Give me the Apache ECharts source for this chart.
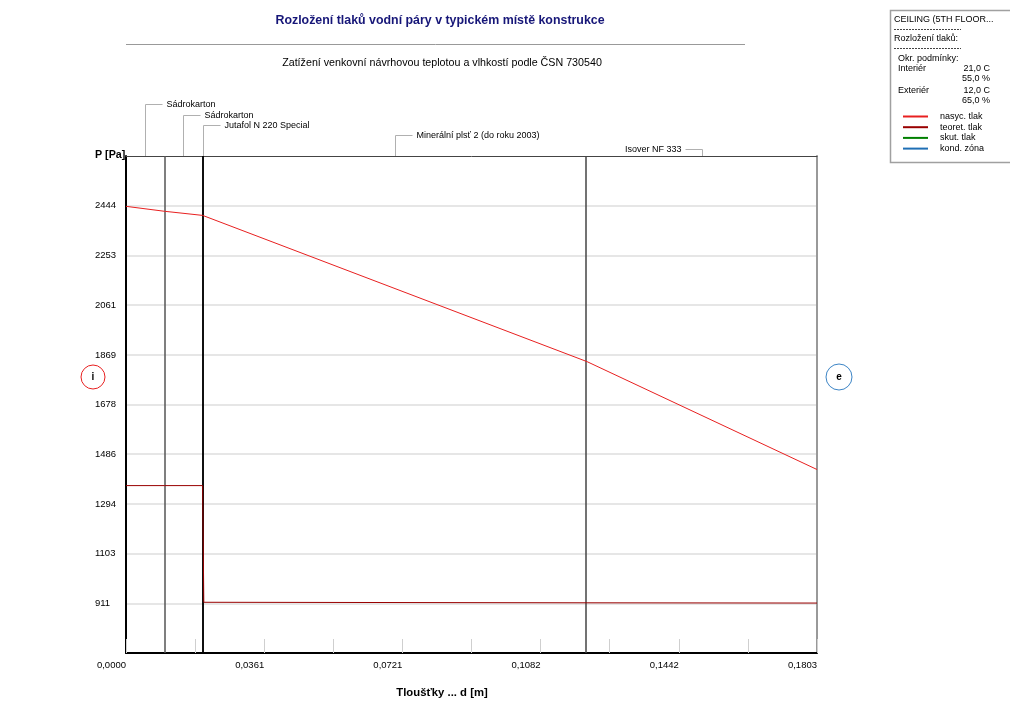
<!DOCTYPE html>
<html><head><meta charset="utf-8">
<script src="https://cdn.jsdelivr.net/npm/echarts@6/dist/echarts.min.js"></script>
<style>html,body{margin:0;padding:0;background:#fff}#c{width:1010px;height:702px}</style>
</head><body><div id="c"></div>
<script>
// ---------- data ----------
const titleText = 'Rozložení tlaků vodní páry v typickém místě konstrukce';
const subtitleText = 'Zatížení venkovní návrhovou teplotou a vlhkostí podle ČSN 730540';
const xAxisTitle = 'Tloušťky ... d [m]';
const yAxisTitle = 'P [Pa]';
const layerNames = ['Sádrokarton', 'Sádrokarton', 'Jutafol N 220 Special', 'Minerální plsť 2 (do roku 2003)', 'Isover NF 333'];
const layerBounds = [0, 0.01, 0.02, 0.0203, 0.1203, 0.1803];          // m
const satPressure = [2442, 2423, 2407, 2406, 1843, 1427];              // Pa at layerBounds
const theorPressure = [1365, 1365, 1365, 915, 913, 912];               // Pa at layerBounds
const yTicks = [911, 1103, 1294, 1486, 1678, 1869, 2061, 2253, 2444];
const yMin = 719.4, yMax = 2636.1;
const xMax = 0.1803, xStep = 0.01803;
const seriesNames = ['nasyc. tlak', 'teoret. tlak', 'skut. tlak', 'kond. zóna'];
const infoHeader = 'CEILING (5TH FLOOR...';
const infoSub = 'Rozložení tlaků:';
const infoCond = 'Okr. podmínky:';
const sideNames = ['Interiér', 'Exteriér'];
const sideTemp = ['21,0 C', '12,0 C'];
const sideHum = ['55,0 %', '65,0 %'];
const sideMarks = ['i', 'e'];

// ---------- styles ----------
const FONT = 'Liberation Sans, Arial, sans-serif';
const SMALL = 9;
const AXIS = 9.5;
const seriesColors = ['#e82020', '#990000', '#008000', '#1f6fb5'];
const boundaryStyles = [null, {color: '#555', width: 1.5}, {color: '#000', width: 1.5}, {color: '#000', width: 1.5}, {color: '#444', width: 1.5}, null];
const labelY = [104, 114.5, 125, 135, 149];
const labelSide = ['r', 'r', 'r', 'r', 'l'];

const chart = echarts.init(document.getElementById('c'), null, {renderer: 'canvas'});

const pair = (xs, ys) => xs.map((x, i) => [x, ys[i]]);

const option = {
  animation: false,
  backgroundColor: '#fff',
  textStyle: {fontFamily: FONT},
  title: [
    {text: titleText, left: 435, top: 10, textAlign: 'center',
     textStyle: {fontFamily: FONT, fontSize: 12.4, fontWeight: 'bold', color: '#161678'}},
    {text: subtitleText, left: 437, top: 53, textAlign: 'center',
     textStyle: {fontFamily: FONT, fontSize: 10.7, fontWeight: 'normal', color: '#000'}}
  ],
  grid: {left: 126, right: 193, top: 156, bottom: 49, containLabel: false},
  legend: {
    orient: 'vertical', left: 903, top: 111.5, padding: 0, itemGap: 0.7,
    icon: 'rect', itemWidth: 25, itemHeight: 2, selectedMode: false,
    data: seriesNames,
    textStyle: {fontFamily: FONT, fontSize: SMALL, color: '#000', lineHeight: 10, padding: [0, 0, 0, 7]}
  },
  xAxis: [
    {type: 'value', min: 0, max: xMax, interval: xStep, position: 'bottom',
     axisLine: {show: true, lineStyle: {color: '#000', width: 2}},
     axisTick: {show: true, inside: true, length: 14, lineStyle: {color: '#cfcfcf', width: 1}},
     splitLine: {show: false},
     axisLabel: {fontFamily: FONT, fontSize: AXIS, color: '#000', align: 'right', margin: 7,
       formatter: (v, i) => (i % 2 === 0 ? v.toFixed(4).replace('.', ',') : '')}},
    {type: 'value', min: 0, max: xMax, position: 'top',
     axisLine: {show: true, onZero: false, lineStyle: {color: '#444', width: 1}},
     axisTick: {show: false}, axisLabel: {show: false}, splitLine: {show: false}}
  ],
  yAxis: [
    {type: 'value', min: yMin, max: yMax, position: 'left',
     axisLine: {show: true, onZero: false, lineStyle: {color: '#000', width: 2}},
     axisTick: {show: false, customValues: yTicks},
     axisLabel: {customValues: yTicks, fontFamily: FONT, fontSize: AXIS, color: '#000', align: 'left', margin: 31,
       formatter: v => String(Math.round(v))},
     splitLine: {show: true, lineStyle: {color: '#dedede', width: 1.5}}},
    {type: 'value', min: yMin, max: yMax, position: 'right',
     axisLine: {show: true, onZero: false, lineStyle: {color: '#999', width: 2}},
     axisTick: {show: false}, axisLabel: {show: false}, splitLine: {show: false}}
  ],
  series: [
    {name: 'layers', type: 'line', data: [], silent: true, z: 1,
     markLine: {silent: true, symbol: 'none', label: {show: false},
       data: layerBounds.map((b, i) => boundaryStyles[i] ? {xAxis: b, lineStyle: {color: boundaryStyles[i].color, width: boundaryStyles[i].width, type: 'solid'}} : null).filter(Boolean)}},
    {name: seriesNames[1], type: 'line', data: pair(layerBounds, theorPressure), showSymbol: false, symbol: 'none',
     lineStyle: {color: seriesColors[1], width: 1}, itemStyle: {color: seriesColors[1]}, z: 10},
    {name: seriesNames[0], type: 'line', data: pair(layerBounds, satPressure), showSymbol: false, symbol: 'none',
     lineStyle: {color: seriesColors[0], width: 1}, itemStyle: {color: seriesColors[0]}, z: 11},
    {name: seriesNames[2], type: 'line', data: [], lineStyle: {color: seriesColors[2], width: 1}, itemStyle: {color: seriesColors[2]}},
    {name: seriesNames[3], type: 'line', data: [], lineStyle: {color: seriesColors[3], width: 1}, itemStyle: {color: seriesColors[3]}}
  ]
};
chart.setOption(option);

// ---------- decorations positioned through the chart's own scales ----------
const plotTop = chart.convertToPixel({yAxisIndex: 0}, yMax);
const plotLeft = chart.convertToPixel({xAxisIndex: 0}, 0);
const g = [];
const txt = (x, y, s, o) => g.push(Object.assign({type: 'text', x, y, silent: true,
  style: Object.assign({text: s, fontFamily: FONT, fontSize: SMALL, fill: '#000', verticalAlign: 'middle'}, o || {})}));
const line = (x1, y1, x2, y2, stroke, w, dash) => g.push({type: 'line', silent: true,
  shape: {x1, y1, x2, y2}, style: {stroke, lineWidth: w || 1, lineDash: dash || null}});

// heading rule
line(plotLeft, 44.5, 745, 44.5, '#999', 1);
// layer labels
layerNames.forEach((n, i) => {
  const cx = chart.convertToPixel({xAxisIndex: 0}, (layerBounds[i] + layerBounds[i + 1]) / 2);
  const px = Math.round(cx) + 0.5;
  const y = Math.round(labelY[i]) + 0.5;
  line(px, plotTop, px, y, '#b0b0b0', 1);
  if (labelSide[i] === 'r') {
    line(px, y, px + 17, y, '#b0b0b0', 1);
    txt(px + 21, y, n);
  } else {
    line(px, y, px - 17, y, '#b0b0b0', 1);
    txt(px - 21, y, n, {align: 'right'});
  }
});
// axis titles
txt(95, plotTop - 1, yAxisTitle, {fontWeight: 'bold', fontSize: 10.7});
txt(442, 693, xAxisTitle, {fontWeight: 'bold', align: 'center', fontSize: 11.3});
// interior / exterior markers
const midY = 377;
g.push({type: 'circle', silent: true, shape: {cx: 93, cy: midY, r: 12}, style: {fill: 'none', stroke: seriesColors[0], lineWidth: 1}});
txt(93, midY, sideMarks[0], {fontWeight: 'bold', align: 'center', fontSize: 10});
g.push({type: 'circle', silent: true, shape: {cx: 839, cy: midY, r: 13}, style: {fill: 'none', stroke: '#3d85c6', lineWidth: 1}});
txt(839, midY, sideMarks[1], {fontWeight: 'bold', align: 'center', fontSize: 10});
// info box
g.push({type: 'rect', silent: true, z: -1, shape: {x: 890.5, y: 10.5, width: 140, height: 152}, style: {fill: '#fff', stroke: '#a0a0a0', lineWidth: 1.5}});
txt(894, 20, infoHeader);
line(894, 29.5, 961, 29.5, '#444', 1, [2, 1]);
txt(894, 39, infoSub);
line(894, 48.5, 961, 48.5, '#444', 1, [2, 1]);
txt(898, 59, infoCond);
txt(898, 69, sideNames[0]);
txt(990, 69, sideTemp[0], {align: 'right'});
txt(990, 79, sideHum[0], {align: 'right'});
txt(898, 91, sideNames[1]);
txt(990, 91, sideTemp[1], {align: 'right'});
txt(990, 101, sideHum[1], {align: 'right'});

chart.setOption({graphic: {elements: g}});
</script>
</body></html>
